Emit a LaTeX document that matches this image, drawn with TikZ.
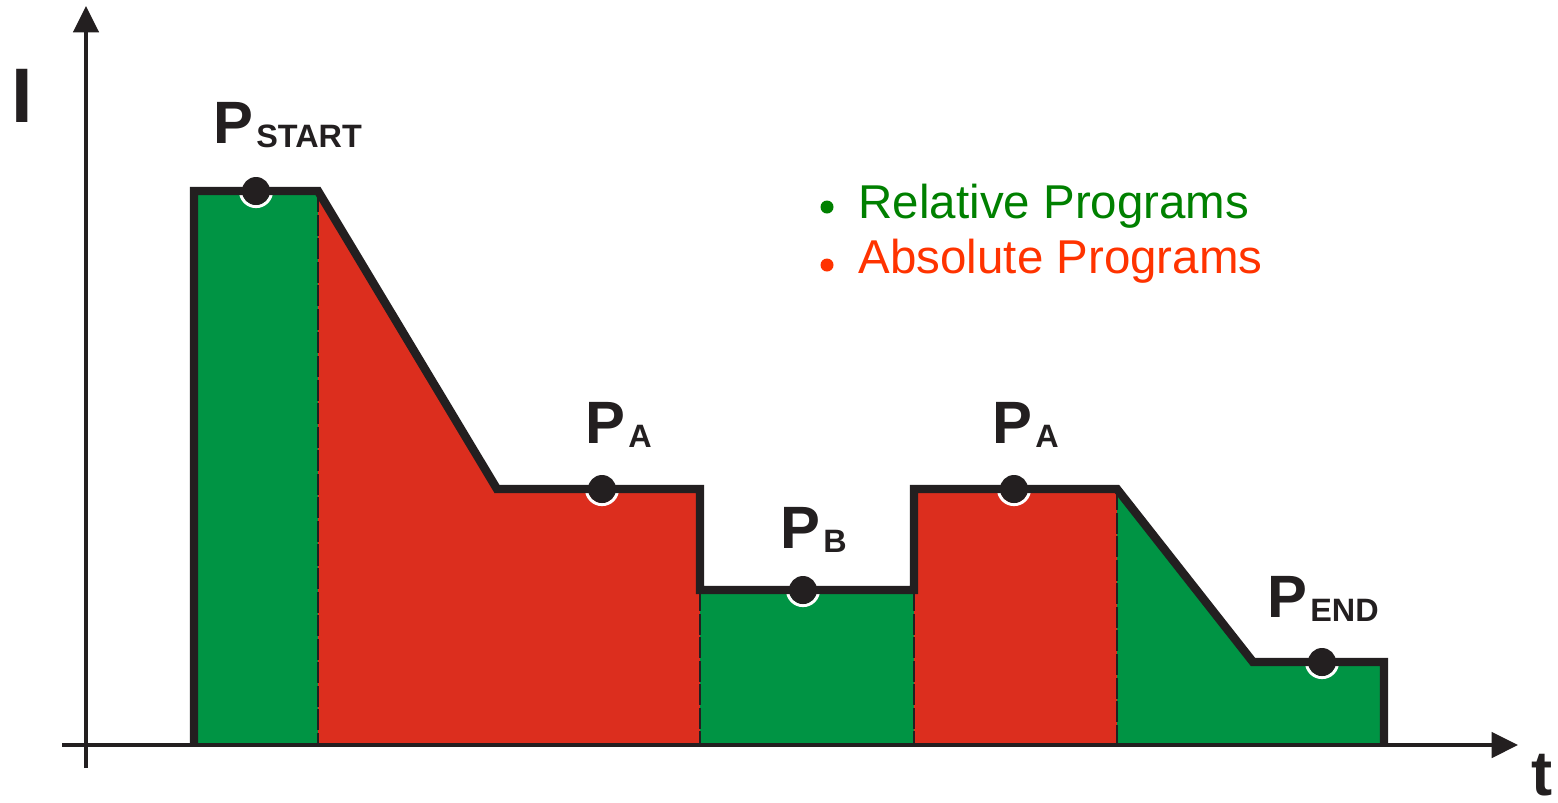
\documentclass[tikz,border=0pt]{standalone}
\usepackage{fontspec}
\setmainfont{Liberation Sans}
\usepackage{xcolor}
\usetikzlibrary{arrows.meta}

\definecolor{relgreen}{RGB}{0,148,68}
\definecolor{absred}{RGB}{220,46,30}
\definecolor{reltext}{RGB}{0,128,0}
\definecolor{abstext}{RGB}{255,51,0}
\definecolor{ink}{RGB}{35,31,32}

\newcommand{\plab}[1]{\fontsize{17}{17}\selectfont\bfseries P\kern0.8pt\raisebox{-1.4pt}{\fontsize{9.2}{9.2}\selectfont #1}}

\tikzset{
    axis/.style={ink, line width=1.1pt, ->},
    profile/.style={ink, line width=2.4pt, miter limit=10},
    divider/.style={ink, line width=0.8pt, dash pattern=on 6pt off 0.7pt},
    plabel/.style={anchor=base west, inner sep=0pt, text=ink},
    legdot/.style={circle, inner sep=0pt, minimum size=0.13cm},
    legtext/.style={anchor=base west, inner sep=0pt, font=\fontsize{13.5}{13.5}\selectfont},
}

\begin{document}
\begin{tikzpicture}[x=0.01cm, y=-0.01cm, >={Triangle[length=7.5pt, width=7.2pt]}]
\useasboundingbox (0,0) rectangle (1558,802);
% corners of the current curve
\coordinate (S0) at (194,745);
\coordinate (S1) at (194,191);
\coordinate (S2) at (318,191);
\coordinate (A1) at (497,489);
\coordinate (A2) at (700,489);
\coordinate (B1) at (700,590);
\coordinate (B2) at (914,590);
\coordinate (A3) at (914,489);
\coordinate (A4) at (1117,489);
\coordinate (E1) at (1253,662);
\coordinate (E2) at (1384,662);
\coordinate (E3) at (1384,745);
% foot points of the dividers
\coordinate (D1) at (318,745);
\coordinate (D2) at (700,745);
\coordinate (D3) at (914,745);
\coordinate (D4) at (1117,745);
% program points
\coordinate (pS) at (256,191);
\coordinate (pA) at (602,489);
\coordinate (pB) at (803,590);
\coordinate (pA2) at (1014,489);
\coordinate (pE) at (1322,662);

\fill[relgreen] (S0) -- (S1) -- (S2) -- (D1) -- cycle;
\fill[absred]   (D1) -- (S2) -- (A1) -- (A2) -- (D2) -- cycle;
\fill[relgreen] (D2) -- (B1) -- (B2) -- (D3) -- cycle;
\fill[absred]   (D3) -- (A3) -- (A4) -- (D4) -- cycle;
\fill[relgreen] (D4) -- (A4) -- (E1) -- (E2) -- (E3) -- cycle;

\draw[divider] (S2) -- (D1);
\draw[divider] (B1) -- (D2);
\draw[divider] (B2) -- (D3);
\draw[divider] (A4) -- (D4);

\foreach \p in {pS,pA,pB,pA2,pE}{
    \draw[white, line width=0.9pt] (\p) circle (0.155cm);
}

\draw[profile] (S0) -- (S1) -- (S2) -- (A1) -- (A2) -- (B1) -- (B2)
    -- (A3) -- (A4) -- (E1) -- (E2) -- (E3);

\foreach \p in {pS,pA,pB,pA2,pE}{
    \fill[ink] (\p) circle (0.14cm);
}

% axes
\coordinate (O) at (86,745);
\coordinate (Ybot) at (86,768);
\coordinate (Ytop) at (86,6);
\coordinate (Xleft) at (62,745);
\coordinate (Xright) at (1518,745);
\draw[axis] (Ybot) -- (Ytop);
\draw[axis] (Xleft) -- (Xright);
\node[plabel, font=\fontsize{22}{22}\selectfont\bfseries] (lI) at (11,122) {I};
\node[plabel, font=\fontsize{18}{18}\selectfont\bfseries] (lt) at (1531,795) {t};

% point labels
\node[plabel] (lStart) at (213,143) {\plab{START}};
\node[plabel] (lA)     at (585,443) {\plab{A}};
\node[plabel] (lB)     at (780,548) {\plab{B}};
\node[plabel] (lA2)    at (992,443) {\plab{A}};
\node[plabel] (lEnd)   at (1267,617) {\plab{END}};

% legend
\node[legdot, fill=reltext] (relDot) at (827,207) {};
\node[legdot, fill=abstext] (absDot) at (827,265) {};
\node[legtext, text=reltext] (relText) at (858,218) {Relative Programs};
\node[legtext, text=abstext] (absText) at (858,273) {Absolute Programs};
\end{tikzpicture}
\end{document}
